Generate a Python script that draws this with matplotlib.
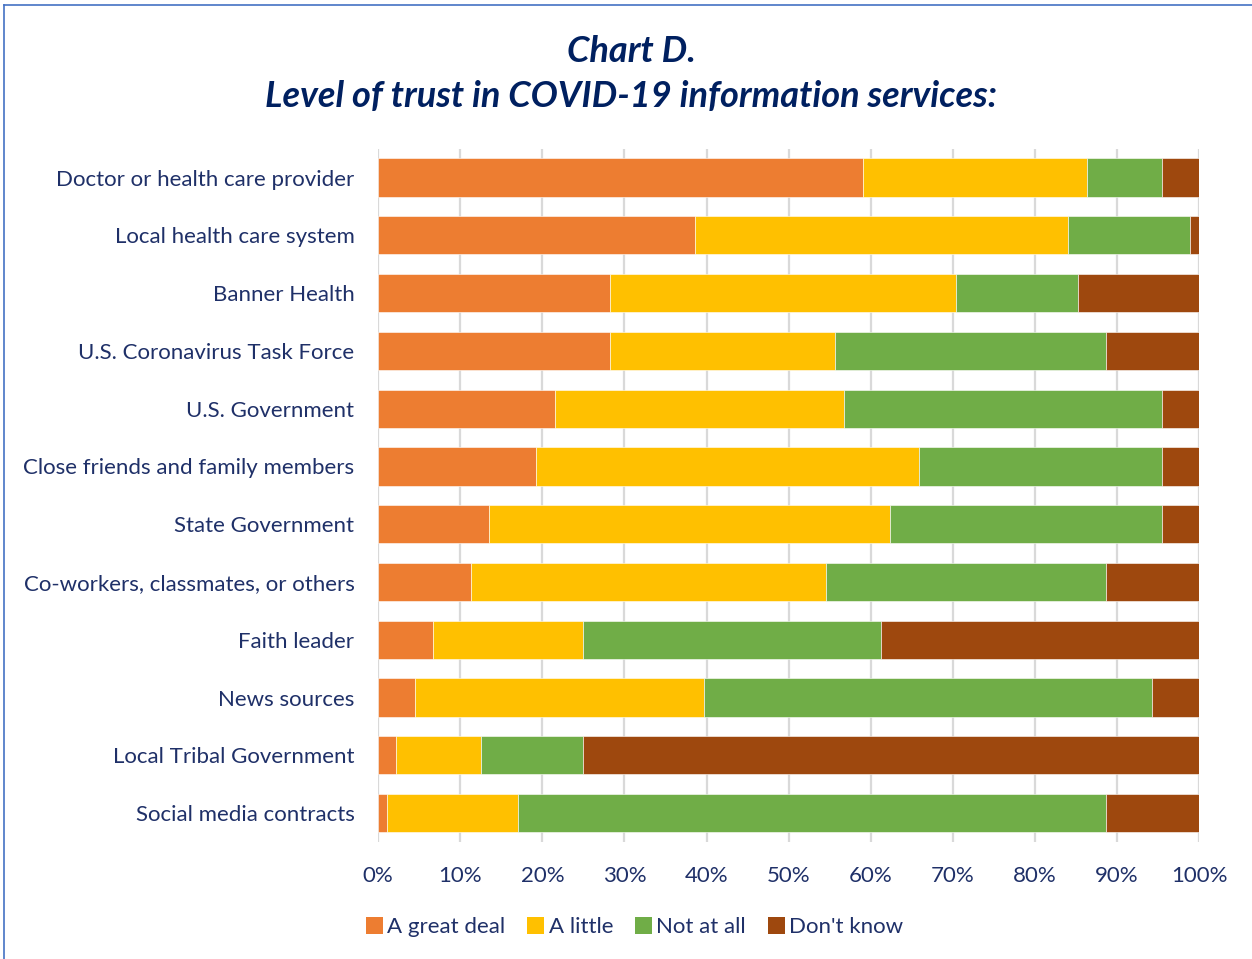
import numpy as np
import matplotlib.pyplot as plt
from matplotlib.patches import Patch
from matplotlib.lines import Line2D

categories = [
    'Doctor or health care provider',
    'Local health care system',
    'Banner Health',
    'U.S. Coronavirus Task Force',
    'U.S. Government',
    'Close friends and family members',
    'State Government',
    'Co-workers, classmates, or others',
    'Faith leader',
    'News sources',
    'Local Tribal Government',
    'Social media contracts',
]

great_deal = [59.1, 38.6, 28.3, 28.3, 21.5, 19.2, 13.5, 11.3, 6.7, 4.5, 2.2, 1.1]
a_little = [27.2, 45.4, 42.1, 27.4, 35.3, 46.7, 48.9, 43.2, 18.3, 35.2, 10.3, 15.9]
not_at_all = [9.2, 14.9, 14.8, 32.9, 38.7, 29.6, 33.1, 34.1, 36.3, 54.6, 12.5, 71.6]
dont_know = [4.5, 1.1, 14.8, 11.4, 4.5, 4.5, 4.5, 11.4, 38.7, 5.7, 75.0, 11.4]

series_names = ['A great deal', 'A little', 'Not at all', "Don't know"]
series_colors = ['#ED7D31', '#FFC000', '#70AD47', '#9E480E']

NAVY = '#1F3068'
TITLE_NAVY = '#002060'
FONT = 'Lato'

fig = plt.figure(figsize=(12.52, 9.59), dpi=100)
ax = fig.add_axes([0.302, 0.122, 0.6558, 0.723])

y = np.arange(len(categories))
left = np.zeros(len(categories))
for vals, name, col in zip([great_deal, a_little, not_at_all, dont_know], series_names, series_colors):
    vals = np.array(vals)
    ax.barh(y, vals, left=left, height=0.66, color=col, edgecolor='white', linewidth=0.4, label=name, zorder=3)
    left += vals

ax.set_ylim(len(categories) - 0.5, -0.5)
ax.set_xlim(0, 100)
ax.set_xticks(np.arange(0, 101, 10))
ax.set_xticklabels([f'{v}%' for v in range(0, 101, 10)])
ax.set_yticks(y)
ax.set_yticklabels(categories)

for sp in ax.spines.values():
    sp.set_visible(False)
ax.tick_params(axis='both', length=0, colors=NAVY, labelsize=16)
ax.tick_params(axis='y', pad=17)
ax.tick_params(axis='x', pad=17)
for lbl in ax.get_xticklabels() + ax.get_yticklabels():
    lbl.set_fontfamily(FONT)
    lbl.set_color(NAVY)
ax.grid(axis='x', color='#D9D9D9', linewidth=1.6, zorder=0)
ax.set_axisbelow(True)

fig.text(0.504, 0.946, 'Chart D.', ha='center', va='center', fontsize=26,
         fontweight='bold', fontstyle='italic', color=TITLE_NAVY, family=FONT)
fig.text(0.504, 0.899, 'Level of trust in COVID-19 information services:', ha='center', va='center',
         fontsize=26, fontweight='bold', fontstyle='italic', color=TITLE_NAVY, family=FONT)

handles = [Patch(facecolor=c, edgecolor='none') for c in series_colors]
leg = fig.legend(handles, series_names, loc='center', bbox_to_anchor=(0.507, 0.033), ncol=4,
                 frameon=False, handlelength=0.75, handleheight=0.75, handletextpad=0.2,
                 columnspacing=1.0, prop={'family': FONT, 'size': 16})
for t in leg.get_texts():
    t.set_color(NAVY)

# thin blue frame around the chart area
fig.add_artist(Line2D([0.003, 1.0], [0.995, 0.995], color='#4472C4', linewidth=1.2, transform=fig.transFigure))
fig.add_artist(Line2D([0.003, 0.003], [0.0, 0.995], color='#4472C4', linewidth=1.2, transform=fig.transFigure))

fig.savefig('out.png', dpi=100)
